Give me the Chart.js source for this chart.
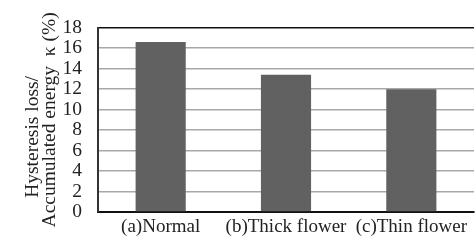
<!DOCTYPE html>
<html lang="en">
<head>
    <meta charset="UTF-8">
    <title>Hysteresis loss ratio</title>
    <script src="https://cdn.jsdelivr.net/npm/chart.js"></script>
    <style>
        html, body { margin: 0; padding: 0; background: #ffffff; }
        canvas { display: block; }
    </style>
</head>
<body>
    <canvas id="chart" width="475" height="240"></canvas>

    <script>
        // data
        const categories = ['(a)Normal', '(b)Thick flower', '(c)Thin flower'];
        const kappaValues = [16.6, 13.4, 12.0];
        const yTicks = [0, 2, 4, 6, 8, 10, 12, 14, 16, 18];

        const serif = '"Liberation Serif", "DejaVu Serif", serif';

        new Chart(document.getElementById('chart'), {
            type: 'bar',
            data: {
                labels: categories,
                datasets: [{
                    data: kappaValues,
                    backgroundColor: '#616161',
                    borderWidth: 0,
                    barPercentage: 0.4,
                    categoryPercentage: 1.0
                }]
            },
            options: {
                responsive: false,
                animation: false,
                layout: { padding: { top: 19, right: 1, left: 0, bottom: 0 } },
                plugins: { legend: { display: false }, tooltip: { enabled: false } },
                scales: {
                    x: {
                        grid: {
                            drawTicks: false,
                            color: ctx => ctx.index === categories.length ? '#a8a8a8' : 'rgba(0,0,0,0)',
                            lineWidth: 1.5
                        },
                        border: { color: '#111111', width: 2 },
                        ticks: {
                            color: '#222222',
                            padding: 4,
                            autoSkip: false,
                            maxRotation: 0,
                            minRotation: 0,
                            font: { family: serif, size: 19 }
                        },
                        afterFit: scale => { scale.height = 28; }
                    },
                    y: {
                        min: 0,
                        max: 18,
                        afterBuildTicks: scale => { scale.ticks = yTicks.map(v => ({ value: v })); },
                        grid: {
                            drawTicks: false,
                            color: ctx => ctx.tick && ctx.tick.value === 18 ? '#111111' : '#a8a8a8',
                            lineWidth: 1.5
                        },
                        border: { color: '#333333', width: 2 },
                        ticks: {
                            color: '#222222',
                            padding: 16,
                            autoSkip: false,
                            font: { family: serif, size: 19.5 }
                        },
                        title: {
                            display: true,
                            text: ['Hysteresis loss/' + '       ', 'Accumulated energy  \u03ba (%)'],
                            color: '#222222',
                            font: { family: serif, size: 19.5, lineHeight: 0.9 },
                            padding: { top: 24, bottom: 0 }
                        },
                        afterFit: scale => { scale.width = 98; }
                    }
                }
            }
        });
    </script>
</body>
</html>
